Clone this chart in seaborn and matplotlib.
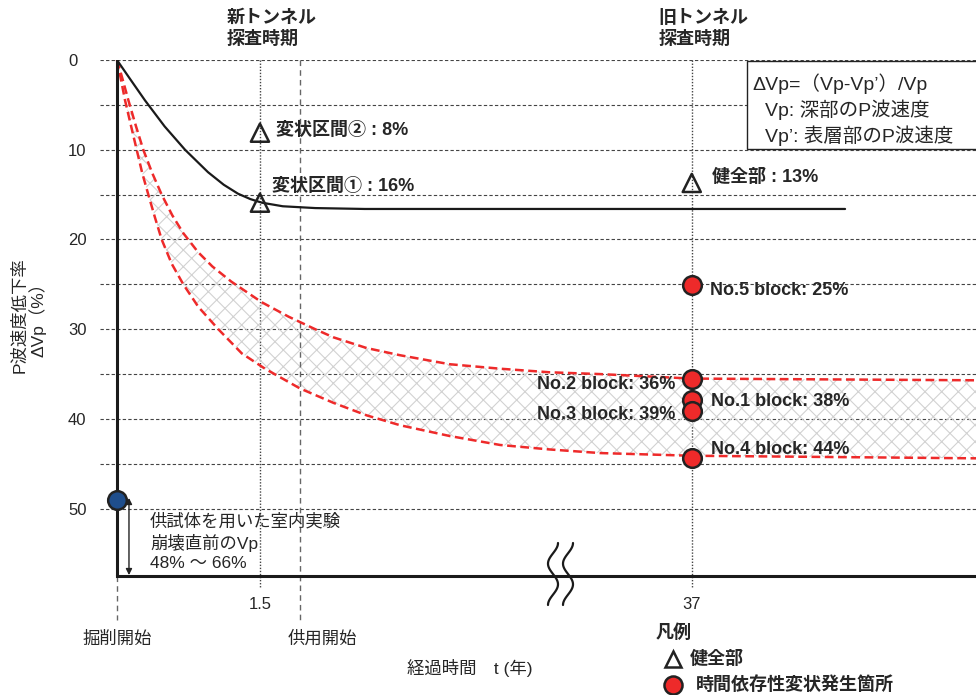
import numpy as np
import matplotlib
matplotlib.use('Agg')
import matplotlib.pyplot as plt
import seaborn as sns
from matplotlib.lines import Line2D
from matplotlib.patches import Rectangle
from matplotlib.ticker import FixedLocator

sns.set_style("white")
plt.rcParams['font.family'] = ['Liberation Sans', 'Noto Sans CJK JP', 'DejaVu Sans']
plt.rcParams['hatch.linewidth'] = 0.8
plt.rcParams['hatch.color'] = '#d2d2d2'

# --- data (t in years, value in % of ΔVp) ---
healthy_t = [0, 0.13, 0.294, 0.50, 0.714, 0.955, 1.12, 1.27, 1.40, 1.52, 1.74, 2.08, 2.6, 74.7]
healthy_v = [0, 2.0, 4.5, 7.4, 10.0, 12.5, 13.9, 14.9, 15.5, 15.9, 16.3, 16.5, 16.6, 16.6]

upper_t = [0, 0.05, 0.119, 0.2, 0.276, 0.37, 0.469, 0.58, 0.696, 0.85, 1.0, 1.2, 1.52, 1.80,
           2.08, 2.27, 2.62, 2.97, 3.49, 4.02, 4.54, 14.45, 37, 110]
upper_v = [0, 1.8, 4.46, 7.4, 10.0, 12.6, 15.0, 17.3, 19.3, 21.4, 23.0, 24.7, 27.0, 28.6,
           30.0, 30.9, 32.1, 32.9, 33.9, 34.4, 34.8, 35.0, 35.5, 35.7]

lower_t = [0, 0.035, 0.084, 0.14, 0.207, 0.265, 0.329, 0.40, 0.469, 0.574, 0.696, 0.853, 1.063,
           1.31, 1.553, 1.92, 2.27, 2.62, 2.97, 3.49, 4.02, 4.54, 14.45, 37, 110]
lower_v = [0, 1.8, 4.46, 7.0, 10.0, 12.6, 15.0, 17.6, 20.0, 22.7, 25.0, 27.5, 30.0,
           32.7, 34.4, 36.6, 38.2, 39.6, 40.7, 41.9, 42.9, 43.4, 43.8, 44.1, 44.4]

tri_t = [1.5, 1.5, 37]
tri_v = [8.1, 15.9, 13.7]
tri_labels = ['変状区間② : 8%', '変状区間① : 16%', '健全部 : 13%']

block_t = [37, 37, 37, 37, 37]
block_v = [25.1, 35.5, 37.9, 39.1, 44.3]
block_labels = ['No.5 block: 25%', 'No.2 block: 36%', 'No.1 block: 38%',
                'No.3 block: 39%', 'No.4 block: 44%']

lab_t = [0]
lab_v = [49]
lab_text = '供試体を用いた室内実験\n崩壊直前のVp\n48% ～ 66%'

probe_t = [1.5, 37]
probe_labels = ['新トンネル\n探査時期', '旧トンネル\n探査時期']
x_tick_labels = ['1.5', '37']

event_t = [0, 1.92]
event_labels = ['掘削開始', '供用開始']

y_ticks = [0, 10, 20, 30, 40, 50]
y_minor = [5, 15, 25, 35, 45]

RED = '#ee2a2a'
INK = '#1a1a1a'

# broken time axis: linear up to the break, compressed after it
BREAK_T = 4.65
K = 0.04266


def fwd(t):
    t = np.asarray(t, dtype=float)
    return np.where(t <= BREAK_T, t, BREAK_T + (t - BREAK_T) * K)


def inv(u):
    u = np.asarray(u, dtype=float)
    return np.where(u <= BREAK_T, u, BREAK_T + (u - BREAK_T) / K)


W, H = 976, 695


def fx(px):
    return px / W


def fy(py):
    return 1 - py / H


fig = plt.figure(figsize=(W / 100, H / 100), dpi=100)
ax = fig.add_axes([fx(100), fy(576), (976 - 100) / W, (576 - 60) / H])
ax.set_xscale('function', functions=(fwd, inv))
ax.set_xlim(-0.178, 106.9)
ax.set_ylim(57.5, 0)

# grid
ax.yaxis.set_major_locator(FixedLocator(y_ticks))
ax.yaxis.set_minor_locator(FixedLocator(y_minor))
ax.grid(axis='y', which='both', color='#444444', ls=(0, (3, 2)), lw=0.8)
ax.xaxis.grid(False)
ax.set_axisbelow(True)

for s in ['left', 'top', 'right']:
    ax.spines[s].set_visible(False)
ax.spines['bottom'].set_bounds(0, 106.9)
ax.spines['bottom'].set_linewidth(2.2)
ax.spines['bottom'].set_color(INK)
ax.axvline(0, color=INK, lw=2.2, zorder=3)

ax.set_yticks(y_ticks, labels=[str(v) for v in y_ticks])
for lab in ax.get_yticklabels():
    lab.set_ha('left')
ax.tick_params(axis='y', which='both', length=0, pad=23, labelsize=12)
ax.set_xticks(probe_t, labels=x_tick_labels)
ax.tick_params(axis='x', which='both', length=0, pad=15, labelsize=12)
ax.set_xlabel('')
ax.set_ylabel('')

# vertical reference lines
ax.vlines(probe_t, 0, 58.75, colors='#444444', linestyles=(0, (1, 1.2)), lw=1, clip_on=False, zorder=1)
ax.vlines(event_t[0], 57.5, 62.4, colors='#666666', linestyles=(0, (4, 3)), lw=1, clip_on=False)
ax.vlines(event_t[1], 0, 62.7, colors='#666666', linestyles=(0, (4, 3)), lw=1, clip_on=False)

# hatched band between the red curves
ax.fill(np.r_[upper_t, lower_t[::-1]], np.r_[upper_v, lower_v[::-1]],
        facecolor='none', edgecolor='#d2d2d2', hatch='xx', lw=0, zorder=1)

sns.lineplot(x=upper_t, y=upper_v, ax=ax, color=RED, lw=1.8, linestyle=(0, (3.5, 1.8)),
             estimator=None, sort=False, zorder=2)
sns.lineplot(x=lower_t, y=lower_v, ax=ax, color=RED, lw=1.8, linestyle=(0, (3.5, 1.8)),
             estimator=None, sort=False, zorder=2)
sns.lineplot(x=healthy_t, y=healthy_v, ax=ax, color=INK, lw=1.6,
             estimator=None, sort=False, zorder=2)

sns.scatterplot(x=tri_t, y=tri_v, ax=ax, marker='^', s=170, facecolor='none',
                edgecolor='#222222', linewidth=1.8, zorder=5, legend=False)
sns.scatterplot(x=block_t, y=block_v, ax=ax, s=180, color=RED,
                edgecolor='#222222', linewidth=1.8, zorder=5, legend=False)
sns.scatterplot(x=lab_t, y=lab_v, ax=ax, s=180, color='#1f4e8c',
                edgecolor='#222222', linewidth=1.8, zorder=6, legend=False, clip_on=False)

bold = dict(fontsize=13, fontweight='bold')

tri_offsets = [(16, 2), (12, 16), (20, 5)]
for t, v, txt, (dx, dy) in zip(tri_t, tri_v, tri_labels, tri_offsets):
    ax.annotate(txt, xy=(t, v), xytext=(dx, dy), textcoords='offset pixels',
                ha='left', va='center', zorder=7, **bold)

block_offsets = [(18, -5), (-16, -6), (19, -1), (-16, -4), (19, 8)]
for t, v, txt, (dx, dy) in zip(block_t, block_v, block_labels, block_offsets):
    ax.annotate(txt, xy=(t, v), xytext=(dx, dy), textcoords='offset pixels',
                ha='left' if dx > 0 else 'right', va='center', zorder=7, **bold)

for t, txt in zip(probe_t, probe_labels):
    ax.annotate(txt, xy=(t, 0), xytext=(-33, 31), textcoords='offset pixels',
                ha='left', va='center', multialignment='left', linespacing=1.35,
                annotation_clip=False, **bold)

event_dx = [0, 22]
for t, txt, dx in zip(event_t, event_labels, event_dx):
    ax.annotate(txt, xy=(t, 57.5), xytext=(dx, -63), textcoords='offset pixels',
                ha='center', va='center', fontsize=12.5, annotation_clip=False)

# lab test range
ax.annotate('', xy=(0.126, 48.8), xytext=(0.126, 57.4),
            arrowprops=dict(arrowstyle='<|-|>', color='#222222', lw=1,
                            mutation_scale=9, shrinkA=0, shrinkB=0))
ax.text(0.346, 53.7, lab_text, ha='left', va='center', fontsize=12.5, linespacing=1.32)

# axis titles
fig.text(fx(470), fy(668), '経過時間　t (年)', ha='center', va='center', fontsize=12.5)
fig.text(fx(29), fy(315), 'P波速度低下率\nΔVp（%）', rotation=90, ha='center', va='center',
         fontsize=12.5, linespacing=1.05)

# definition box
fig.add_artist(Rectangle((fx(747), fy(149)), 0.3, (149 - 61) / H, transform=fig.transFigure,
                         facecolor='white', edgecolor='#222222', lw=1, zorder=3))
fig.text(fx(752), fy(84), 'ΔVp=（Vp-Vp’）/Vp', va='center', fontsize=14, zorder=4)
fig.text(fx(765), fy(110), 'Vp: 深部のP波速度', va='center', fontsize=14, zorder=4)
fig.text(fx(765), fy(136), 'Vp’: 表層部のP波速度', va='center', fontsize=14, zorder=4)

# axis break marks
s = np.linspace(0, 1, 60)
for xc in (553, 568):
    fig.add_artist(Line2D(fx(xc + 5 * np.cos(3 * np.pi * s)), fy(543 + 62 * s),
                          color=INK, lw=1.6, transform=fig.transFigure, zorder=4))

# legend
fig.text(fx(656), fy(633), '凡例', ha='left', va='center', **bold)
fig.add_artist(Line2D([fx(673)], [fy(659)], marker='^', ms=12, mfc='none', mec='#222222',
                      mew=1.8, ls='none', transform=fig.transFigure))
fig.text(fx(690), fy(659), '健全部', ha='left', va='center', **bold)
fig.add_artist(Line2D([fx(673)], [fy(685)], marker='o', ms=13, mfc=RED, mec='#222222',
                      mew=1.8, ls='none', transform=fig.transFigure))
fig.text(fx(696), fy(685), '時間依存性変状発生箇所', ha='left', va='center', **bold)

fig.savefig('out.png', dpi=100)
print("Figure save: out.png")
